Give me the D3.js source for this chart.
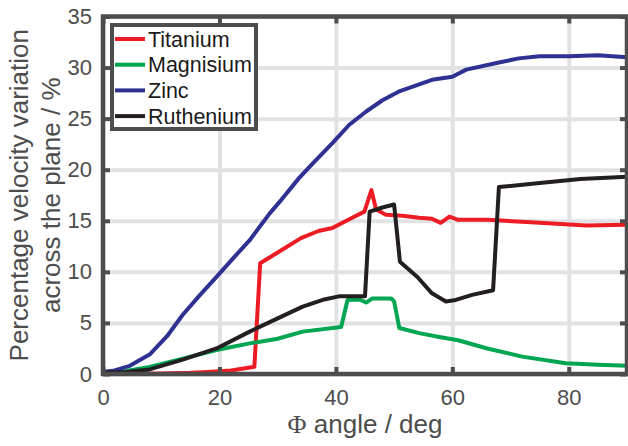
<!DOCTYPE html>
<html>
<head>
<meta charset="utf-8">
<script src="https://cdn.jsdelivr.net/npm/d3@7"></script>
<style>
  body { margin: 0; background: #fff; }
  svg { display: block; font-family: "Liberation Sans", Arial, sans-serif; }
</style>
</head>
<body>
<div id="chart"></div>
<script>
// Velocity variation across the plane vs. angle, one series per metal
const titaniumAngle = [0, 5, 10, 15, 18, 22, 26, 27, 30, 34, 37, 39.4, 42.8, 44.9, 46.1, 46.9, 48.6, 51.4, 54.3, 56.5, 58, 59.5, 61, 66, 75, 83, 90];
const titaniumValue = [0, 0.02, 0.05, 0.12, 0.2, 0.35, 0.7, 10.85, 11.9, 13.3, 14.0, 14.3, 15.3, 15.9, 18.0, 16.1, 15.6, 15.5, 15.3, 15.2, 14.8, 15.4, 15.1, 15.1, 14.8, 14.55, 14.6];

const magnisiumAngle = [0, 4, 8, 13.7, 19.5, 25.2, 30, 34.3, 40.9, 42, 44, 45.2, 46.3, 49.5, 50, 50.9, 54.3, 58, 61, 66, 72, 79.5, 85, 90];
const magnisiumValue = [0, 0.3, 0.7, 1.5, 2.35, 3.0, 3.45, 4.15, 4.6, 7.25, 7.3, 7.0, 7.4, 7.4, 7.1, 4.5, 4.0, 3.6, 3.3, 2.5, 1.7, 1.05, 0.9, 0.8];

const zincAngle = [0, 2, 4.6, 8, 11, 13.7, 16.6, 19.5, 22.3, 25.2, 28.6, 30.7, 33.7, 36, 39.4, 42.3, 45.2, 48, 51, 56.5, 60, 62.4, 68, 71.4, 75, 80, 85, 90];
const zincValue = [0.2, 0.35, 0.8, 1.9, 3.7, 5.8, 7.7, 9.5, 11.3, 13.1, 15.7, 17.1, 19.2, 20.6, 22.6, 24.4, 25.7, 26.8, 27.7, 28.8, 29.1, 29.8, 30.5, 30.9, 31.1, 31.1, 31.2, 31.0];

const rutheniumAngle = [0, 4, 8, 13.7, 19.5, 25.2, 30, 34.3, 38, 40.5, 45, 45.8, 48, 50, 51, 54, 56.5, 58.9, 60.6, 63.4, 67, 68, 75, 82, 90];
const rutheniumValue = [0.15, 0.2, 0.45, 1.4, 2.5, 4.15, 5.45, 6.6, 7.3, 7.6, 7.6, 15.9, 16.3, 16.6, 11.0, 9.5, 7.9, 7.1, 7.25, 7.75, 8.2, 18.3, 18.7, 19.1, 19.3];

const seriesNames = ["Titanium", "Magnisium", "Zinc", "Ruthenium"];
const xTicks = [0, 20, 40, 60, 80];
const yTicks = [0, 5, 10, 15, 20, 25, 30, 35];

const series = [
    {name: seriesNames[0], angle: titaniumAngle, value: titaniumValue, color: "#ed1c24"},
    {name: seriesNames[1], angle: magnisiumAngle, value: magnisiumValue, color: "#00a651"},
    {name: seriesNames[2], angle: zincAngle, value: zincValue, color: "#2e3192"},
    {name: seriesNames[3], angle: rutheniumAngle, value: rutheniumValue, color: "#231f20"}
];

const W = 628, H = 446;
const margin = {top: 16.5, right: 1, bottom: 72, left: 103};
const width = W - margin.left - margin.right;
const height = H - margin.top - margin.bottom;
const frameColor = "#4d4d4d";

const svg = d3.select("#chart")
    .append("svg")
    .attr("width", W)
    .attr("height", H);

const g = svg.append("g")
    .attr("transform", `translate(${margin.left},${margin.top})`);

const x = d3.scaleLinear().domain([0, 90]).range([0, width]);
const y = d3.scaleLinear().domain([0, 35]).range([height, 0]);

// Grid
g.append("g")
    .attr("transform", `translate(0,${height})`)
    .call(d3.axisBottom(x).tickValues(xTicks).tickSize(-height).tickFormat(""))
    .call(a => a.select(".domain").remove())
    .selectAll("line").attr("stroke", "#e1e2e4").attr("stroke-width", 4);

g.append("g")
    .call(d3.axisLeft(y).tickValues(yTicks).tickSize(-width).tickFormat(""))
    .call(a => a.select(".domain").remove())
    .selectAll("line").attr("stroke", "#e1e2e4").attr("stroke-width", 4);

// Data lines
const line = d3.line()
    .x(d => x(d[0]))
    .y(d => y(d[1]));

series.forEach(s => {
    g.append("path")
        .datum(s.angle.map((a, i) => [a, s.value[i]]))
        .attr("fill", "none")
        .attr("stroke", s.color)
        .attr("stroke-width", 4)
        .attr("stroke-linejoin", "round")
        .attr("d", line);
});

// Frame
g.append("rect")
    .attr("width", width)
    .attr("height", height)
    .attr("fill", "none")
    .attr("stroke", frameColor)
    .attr("stroke-width", 4.5);

// Axes with inward ticks
function styleAxis(a) {
    a.select(".domain").remove();
    a.selectAll("line").attr("stroke", frameColor).attr("stroke-width", 4);
    a.selectAll("text")
        .attr("fill", frameColor)
        .style("font-size", "22px")
        .style("font-family", "'Liberation Sans', Arial, sans-serif");
}

g.append("g")
    .attr("transform", `translate(0,${height})`)
    .call(d3.axisBottom(x).tickValues(xTicks).tickSizeInner(-7).tickSizeOuter(0).tickPadding(15))
    .call(styleAxis);

g.append("g")
    .call(d3.axisLeft(y).tickValues(yTicks).tickSizeInner(-7).tickSizeOuter(0).tickPadding(11))
    .call(styleAxis);

g.append("g")
    .call(d3.axisTop(x).tickValues(xTicks).tickSizeInner(-7).tickSizeOuter(0).tickFormat(""))
    .call(styleAxis);

g.append("g")
    .attr("transform", `translate(${width},0)`)
    .call(d3.axisRight(y).tickValues(yTicks).tickSizeInner(-7).tickSizeOuter(0).tickFormat(""))
    .call(styleAxis);

// Axis labels
const xLabel = svg.append("text")
    .attr("x", margin.left + width / 2)
    .attr("y", 433)
    .attr("text-anchor", "middle")
    .attr("fill", frameColor)
    .style("font-size", "26px");
xLabel.append("tspan")
    .style("font-family", "'Liberation Serif', 'Times New Roman', serif")
    .text("Φ");
xLabel.append("tspan").text(" angle / deg");

const yLabel = svg.append("text")
    .attr("transform", `translate(28,${margin.top + height / 2}) rotate(-90)`)
    .attr("text-anchor", "middle")
    .attr("fill", frameColor)
    .style("font-size", "26px");
yLabel.append("tspan").attr("x", 0).attr("y", 0).text("Percentage velocity variation");
yLabel.append("tspan").attr("x", 0).attr("y", 32).text("across the plane / %");

// Legend
const legend = svg.append("g")
    .attr("transform", "translate(112,25)");

legend.append("rect")
    .attr("width", 144)
    .attr("height", 104)
    .attr("fill", "#fff")
    .attr("stroke", frameColor)
    .attr("stroke-width", 4);

series.forEach((s, i) => {
    const cy = 14 + i * 25.7;
    legend.append("line")
        .attr("x1", 3)
        .attr("x2", 33)
        .attr("y1", cy)
        .attr("y2", cy)
        .attr("stroke", s.color)
        .attr("stroke-width", 4);
    legend.append("text")
        .attr("x", 36)
        .attr("y", cy)
        .attr("dy", "0.36em")
        .attr("fill", "#1a1a1a")
        .style("font-size", "21.5px")
        .text(s.name);
});
</script>
</body>
</html>
